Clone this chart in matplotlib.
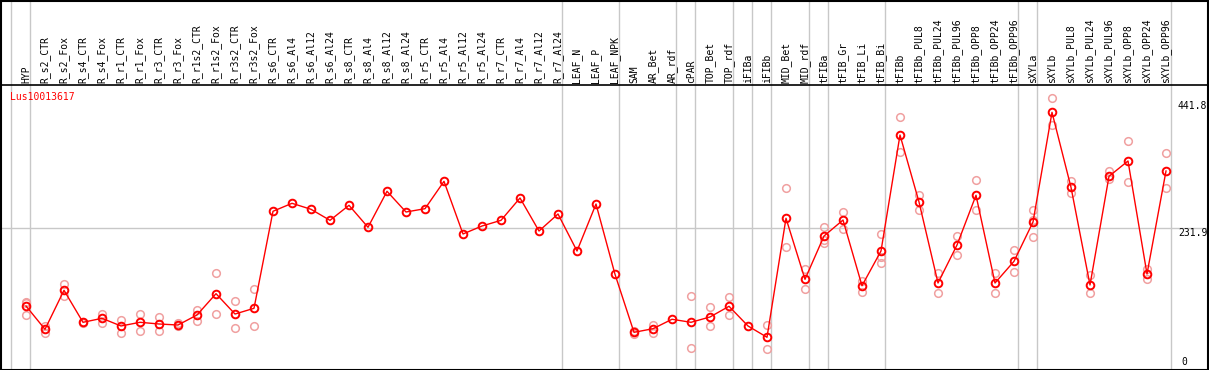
import numpy as np
import matplotlib
matplotlib.use('Agg')
import matplotlib.pyplot as plt

# sample names, one column each
Samples = ['HYP', 'R_s2_CTR', 'R_s2_Fox', 'R_s4_CTR', 'R_s4_Fox', 'R_r1_CTR', 'R_r1_Fox',
           'R_r3_CTR', 'R_r3_Fox', 'R_r1s2_CTR', 'R_r1s2_Fox', 'R_r3s2_CTR', 'R_r3s2_Fox',
           'R_s6_CTR', 'R_s6_Al4', 'R_s6_Al12', 'R_s6_Al24', 'R_s8_CTR', 'R_s8_Al4',
           'R_s8_Al12', 'R_s8_Al24', 'R_r5_CTR', 'R_r5_Al4', 'R_r5_Al12', 'R_r5_Al24',
           'R_r7_CTR', 'R_r7_Al4', 'R_r7_Al12', 'R_r7_Al24', 'LEAF_N', 'LEAF_P', 'LEAF_NPK',
           'SAM', 'AR_Bet', 'AR_rdf', 'cPAR', 'TOP_Bet', 'TOP_rdf', 'iFIBa', 'iFIBb',
           'MID_Bet', 'MID_rdf', 'tFIBa', 'tFIB_Gr', 'tFIB_Li', 'tFIB_Bi', 'tFIBb',
           'tFIBb_PUL8', 'tFIBb_PUL24', 'tFIBb_PUL96', 'tFIBb_OPP8', 'tFIBb_OPP24',
           'tFIBb_OPP96', 'sXYLa', 'sXYLb', 'sXYLb_PUL8', 'sXYLb_PUL24', 'sXYLb_PUL96',
           'sXYLb_OPP8', 'sXYLb_OPP24', 'sXYLb_OPP96']

# number of samples in each tissue group (gray separators)
GroupSizes = [1, 28, 3, 3, 1, 2, 1, 1, 2, 1, 3, 7, 1, 7]

# mean expression
Means = [102.7, 64.1, 128.7, 75.7, 82.3, 69.6, 75.7, 72.9, 71.2, 87.8, 123.1, 89.4, 98.9,
         259.6, 272.8, 262.9, 244.6, 269.5, 233.1, 292.7, 258.4, 263.9, 309.2, 222.0,
         235.2, 244.6, 281.6, 226.9, 255.1, 193.8, 271.6, 155.2,
         59.1, 65.1, 80.7, 75.7, 84.5, 102.2, 69.6, 50.9, 248.0, 146.9,
         218.6, 245.1, 136.3, 193.8, 385.9, 275.0, 140.8, 203.7, 286.1, 140.8, 176.7,
         241.8, 423.5, 299.3, 137.5, 317.5, 342.9, 155.7, 326.3]

# replicate values
Reps = [[109.8, 107.7, 87.3], [70.1, 58.5], [138.6, 118.8], [77.0, 74.5], [89.4, 74.5],
        [79.0, 58.5], [89.4, 61.8], [84.0, 61.8], [75.0, 70.1], [96.6, 78.3],
        [156.9, 89.4], [110.5, 65.8], [130.4, 69.6],
        [], [], [], [], [], [], [], [], [], [], [], [], [], [], [], [], [], [], [],
        [62.1, 56.3], [71.7, 58.5], [], [118.8, 32.6], [100.5, 69.1], [117.6, 87.3],
        [], [71.2, 31.0], [297.7, 199.9], [163.5, 130.4],
        [233.6, 212.0, 207.5], [257.9, 229.7], [143.6, 125.4], [222.0, 183.4, 174.4],
        [415.8, 357.8], [286.1, 261.7], [157.9, 124.2], [218.6, 187.2], [311.4, 261.7],
        [156.9, 124.2], [195.0, 158.5], [261.7, 245.6, 217.0], [446.7, 402.5],
        [310.2, 289.4], [154.0, 123.7], [326.3, 312.6], [375.5, 307.6], [163.5, 147.9],
        [355.6, 297.7]]

GeneName = 'Lus10013617'
YTicks = [441.8, 231.9, 0]

W, H = 1209, 370
ColStep = 19.0       # px per column
X0 = 26.0            # px of first column
YZero = 368.0        # px of value 0
YScale = 280.0 / 463.8  # px per unit

fig = plt.figure(figsize=(W / 100, H / 100), dpi=100)
ax = fig.add_axes([0, 0, 1, 1])
ax.set_xlim(-X0 / ColStep, (W - X0) / ColStep)
ax.set_ylim((YZero - H) / YScale, YZero / YScale)
ax.axis('off')

mono = 'DejaVu Sans Mono'
gray = '#c8c8c8'

# group separators
edges = -0.8 + np.concatenate([[0], np.cumsum(GroupSizes)])
for e in edges:
    ax.axvline(e + (0.05 if e > 59 else 0), color=gray, lw=1, zorder=1)
ax.axhline(YTicks[1], color=gray, lw=1, zorder=1)

# frame and header separator
LabelBase = (YZero - 85) / YScale
ax.axhline(LabelBase, color='black', lw=1.2, zorder=2)
fig.patches.append(plt.Rectangle((0.5 / W, 0.5 / H), 1 - 1.5 / W, 1 - 1.5 / H,
                                 transform=fig.transFigure, fill=False,
                                 edgecolor='black', lw=1.5))

# sample labels
xs = np.arange(len(Samples))
for i, name in enumerate(Samples):
    ax.text(i, (YZero - 83) / YScale, name, rotation=90, ha='center', va='bottom',
            fontsize=7, family=mono, color='black')

# replicates
for i, r in enumerate(Reps):
    if len(r):
        ax.plot([i] * len(r), r, 'o', ms=5.5, mfc='none', mec='#f0a0a0', mew=1.1,
                zorder=3, clip_on=False)

# means
ax.plot(xs, Means, color='red', lw=1, marker='o', ms=5.5, mfc='none', mec='red',
        mew=1.4, zorder=4)

ax.text(-16 / ColStep, (YZero - 97) / YScale, GeneName, color='red', fontsize=7,
        family=mono, ha='left', va='center')

xl = (1178 - X0) / ColStep
ax.text(xl, YTicks[0], '441.8', fontsize=7, family=mono, va='top', ha='left')
ax.text(xl, YTicks[1], '231.9', fontsize=7, family=mono, va='top', ha='left')
ax.text((1181 - X0) / ColStep, (YZero - 367) / YScale, '0', fontsize=7, family=mono,
        va='bottom', ha='left')

plt.savefig('out.png', dpi=100)
